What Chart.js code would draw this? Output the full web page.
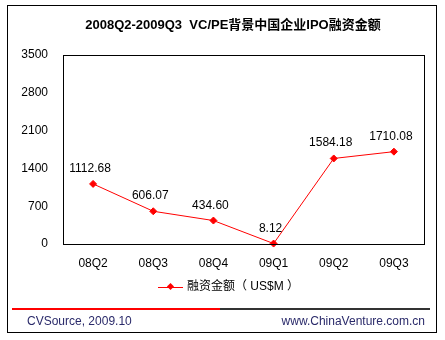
<!DOCTYPE html>
<html><head><meta charset="utf-8">
<script src="https://cdn.jsdelivr.net/npm/chart.js@4/dist/chart.umd.min.js"></script>
<style>
html,body{margin:0;padding:0;background:#fff;}
#wrap{position:relative;width:445px;height:340px;overflow:hidden;font-family:"Liberation Sans","Noto Sans CJK SC",Arial,sans-serif;}
#frame{position:absolute;left:7px;top:5px;width:430px;height:328px;border:1px solid #000;box-sizing:border-box;}
#title{position:absolute;left:0;width:466px;top:14px;text-align:center;font-weight:bold;font-size:13px;color:#000;white-space:pre;}
#legend{position:absolute;left:158px;top:276px;font-size:12px;color:#000;white-space:nowrap;}
#legend .sw{display:inline-block;position:relative;width:25px;height:12px;vertical-align:middle;margin-right:4px;}
#legend .ln{position:absolute;left:0;top:6px;width:25px;height:1px;background:#ff0000;}
#legend .dm{position:absolute;left:10px;top:3px;width:5px;height:5px;background:#ff0000;transform:rotate(45deg);}
#lineR{position:absolute;left:12px;top:308px;width:208px;height:2px;background:#ff0000;}
#lineK{position:absolute;left:220px;top:308px;width:210px;height:2px;background:#333;}
#src{position:absolute;left:27px;top:314px;font-size:12px;color:#2a2a6a;}
#url{position:absolute;right:20px;top:314px;font-size:12px;color:#2a2a6a;}
canvas{position:absolute;left:0;top:0;}
</style></head>
<body>
<div id="wrap">
<canvas id="c" width="445" height="340"></canvas>
<div id="frame"></div>
<div id="title">2008Q2-2009Q3  VC/PE背景中国企业IPO融资金额</div>
<div id="legend"><span class="sw"><span class="ln"></span><span class="dm"></span></span>融资金额（ US$M ）</div>
<div id="lineR"></div><div id="lineK"></div>
<div id="src">CVSource, 2009.10</div>
<div id="url">www.ChinaVenture.com.cn</div>
</div>
<script>
const categories = ["08Q2","08Q3","08Q4","09Q1","09Q2","09Q3"];
const amounts = [1112.68, 606.07, 434.60, 8.12, 1584.18, 1710.08];
const valueLabels = ["1112.68","606.07","434.60","8.12","1584.18","1710.08"];
const yTicks = [0,700,1400,2100,2800,3500];

const framePlugin = {
  id:'frameP',
  afterDraw(chart){
    const ctx = chart.ctx, a = chart.chartArea;
    ctx.save();
    ctx.strokeStyle='#000'; ctx.lineWidth=1;
    ctx.strokeRect(Math.round(a.left)+0.5, Math.round(a.top)+0.5, Math.round(a.right-a.left), Math.round(a.bottom-a.top));
    ctx.fillStyle='#000';
    ctx.font='12px "Liberation Sans", Arial, sans-serif';
    ctx.textAlign='center'; ctx.textBaseline='alphabetic';
    const meta = chart.getDatasetMeta(0);
    meta.data.forEach((p,i)=>{
      ctx.fillText(valueLabels[i], p.x-3, p.y-12);
    });
    ctx.restore();
  }
};

new Chart(document.getElementById('c'), {
  type:'line',
  data:{labels:categories, datasets:[{
    label:'融资金额（US$M）', data:amounts,
    borderColor:'#ff0000', backgroundColor:'#ff0000', borderWidth:1,
    pointStyle:'rectRot', pointRadius:3.5, pointBackgroundColor:'#ff0000', pointBorderColor:'#ff0000',
    tension:0, clip:false
  }]},
  options:{
    responsive:false, animation:false, devicePixelRatio:1,
    layout:{padding:{left:0,right:21,top:55,bottom:0}},
    plugins:{legend:{display:false}, title:{display:false}, tooltip:{enabled:false}},
    scales:{
      x:{offset:true, grid:{display:false, drawTicks:false}, border:{display:false},
         ticks:{color:'#000', font:{family:'"Liberation Sans", Arial, sans-serif', size:12}, padding:12, maxRotation:0},
         afterFit(s){ s.height = 96; }},
      y:{min:0, max:3500, grid:{display:false, drawTicks:false}, border:{display:false},
         afterBuildTicks(s){ s.ticks = yTicks.map(v=>({value:v})); },
         ticks:{color:'#000', font:{family:'"Liberation Sans", Arial, sans-serif', size:12}, padding:15,
                callback:(v)=>String(v)},
         afterFit(s){ s.width = 63; }}
    }
  },
  plugins:[framePlugin]
});
</script>
</body></html>
